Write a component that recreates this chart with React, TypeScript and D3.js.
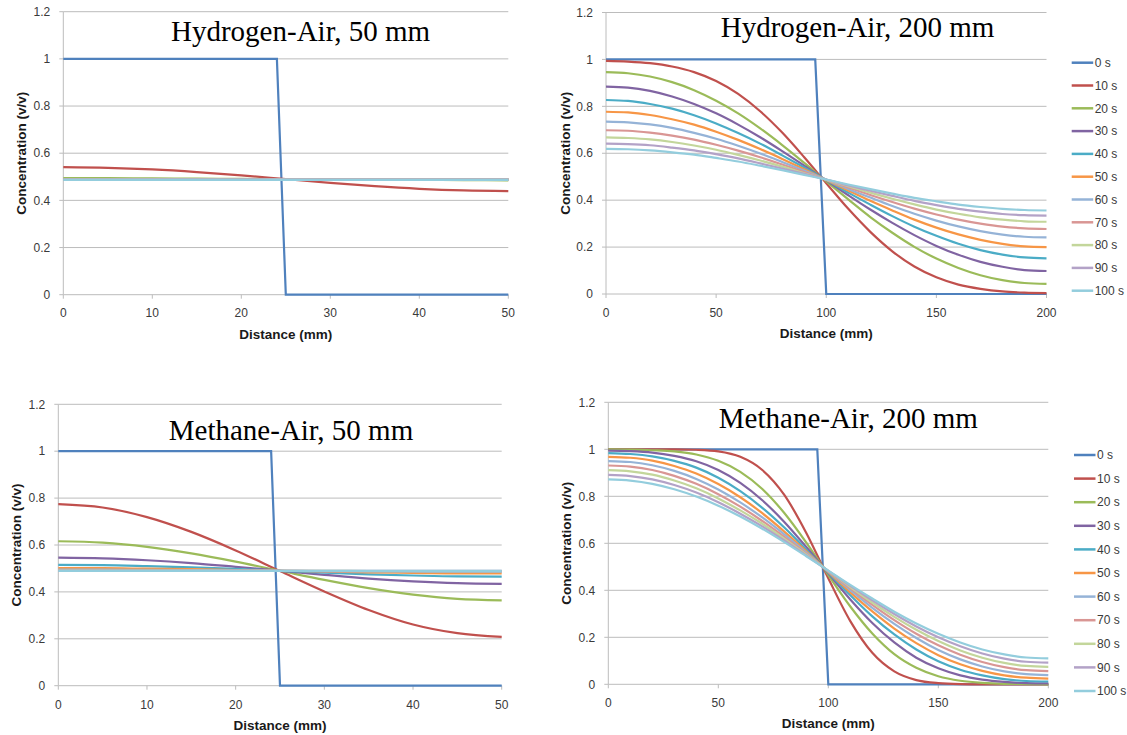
import React from "react";
import * as d3 from "d3";

// ---------- data ----------
const SERIES = ["0 s", "10 s", "20 s", "30 s", "40 s", "50 s", "60 s", "70 s", "80 s", "90 s", "100 s"];
const COLORS = ["#4F81BD", "#C0504D", "#9BBB59", "#8064A2", "#4BACC6", "#F79646", "#95B3D7", "#D99694", "#C3D69B", "#B3A2C7", "#93CDDD"];

const Y_TICKS = [0, 0.2, 0.4, 0.6, 0.8, 1, 1.2];
const X_TICKS_50 = [0, 10, 20, 30, 40, 50];
const X_TICKS_200 = [0, 50, 100, 150, 200];

// distance grids (mm)
const X50 = [0, 5, 10, 15, 20, 25, 30, 35, 40, 45, 50];
const X200 = [0, 10, 20, 30, 40, 50, 60, 70, 80, 90, 100, 110, 120, 130, 140, 150, 160, 170, 180, 190, 200];

// initial (0 s) step profile
const STEP_X_50 = [0, 24, 25, 50];
const STEP_X_200 = [0, 95, 100, 200];
const STEP_Y = [1, 1, 0, 0];

// Hydrogen-Air, 50 mm : rows = 10 s ... 100 s, values on X50
const H50 = [
  [0.541, 0.538, 0.531, 0.520, 0.506, 0.490, 0.474, 0.460, 0.449, 0.442, 0.439],
  [0.494, 0.494, 0.493, 0.492, 0.491, 0.490, 0.489, 0.488, 0.487, 0.486, 0.485],
  [0.490, 0.490, 0.490, 0.490, 0.490, 0.490, 0.490, 0.490, 0.490, 0.489, 0.489],
  [0.489, 0.489, 0.489, 0.489, 0.489, 0.489, 0.489, 0.489, 0.489, 0.489, 0.489],
  [0.489, 0.489, 0.489, 0.489, 0.489, 0.489, 0.489, 0.489, 0.489, 0.489, 0.489],
  [0.489, 0.489, 0.489, 0.489, 0.489, 0.489, 0.489, 0.489, 0.489, 0.489, 0.489],
  [0.488, 0.488, 0.488, 0.488, 0.488, 0.488, 0.488, 0.488, 0.488, 0.488, 0.488],
  [0.488, 0.488, 0.488, 0.488, 0.488, 0.488, 0.488, 0.488, 0.488, 0.488, 0.488],
  [0.488, 0.488, 0.488, 0.488, 0.488, 0.488, 0.488, 0.488, 0.488, 0.488, 0.488],
  [0.487, 0.487, 0.487, 0.487, 0.487, 0.487, 0.487, 0.487, 0.487, 0.487, 0.487],
];

// Hydrogen-Air, 200 mm : rows = 10 s ... 100 s, values on X200
const H200 = [
  [0.994, 0.991, 0.984, 0.970, 0.946, 0.908, 0.853, 0.779, 0.688, 0.583, 0.472, 0.363, 0.265, 0.182, 0.117, 0.071, 0.040, 0.022, 0.011, 0.006, 0.004],
  [0.946, 0.941, 0.927, 0.903, 0.869, 0.824, 0.770, 0.706, 0.635, 0.559, 0.480, 0.403, 0.328, 0.261, 0.201, 0.151, 0.111, 0.080, 0.059, 0.047, 0.043],
  [0.884, 0.880, 0.866, 0.842, 0.810, 0.770, 0.722, 0.668, 0.609, 0.547, 0.484, 0.421, 0.360, 0.303, 0.251, 0.205, 0.167, 0.137, 0.116, 0.102, 0.098],
  [0.827, 0.823, 0.810, 0.790, 0.762, 0.727, 0.686, 0.641, 0.591, 0.539, 0.486, 0.432, 0.381, 0.332, 0.287, 0.248, 0.214, 0.187, 0.168, 0.156, 0.152],
  [0.777, 0.774, 0.763, 0.745, 0.722, 0.692, 0.657, 0.618, 0.576, 0.532, 0.486, 0.441, 0.397, 0.356, 0.317, 0.283, 0.254, 0.231, 0.214, 0.203, 0.200],
  [0.735, 0.732, 0.723, 0.708, 0.687, 0.662, 0.632, 0.599, 0.563, 0.526, 0.487, 0.448, 0.411, 0.375, 0.342, 0.313, 0.288, 0.268, 0.253, 0.244, 0.241],
  [0.698, 0.696, 0.688, 0.675, 0.658, 0.636, 0.611, 0.583, 0.552, 0.520, 0.487, 0.454, 0.422, 0.392, 0.364, 0.339, 0.317, 0.300, 0.287, 0.280, 0.277],
  [0.668, 0.665, 0.659, 0.648, 0.633, 0.615, 0.593, 0.569, 0.543, 0.515, 0.487, 0.460, 0.432, 0.406, 0.382, 0.360, 0.342, 0.327, 0.317, 0.310, 0.308],
  [0.641, 0.639, 0.634, 0.624, 0.612, 0.596, 0.578, 0.557, 0.535, 0.512, 0.488, 0.463, 0.440, 0.418, 0.397, 0.379, 0.363, 0.351, 0.341, 0.336, 0.334],
  [0.619, 0.617, 0.612, 0.604, 0.594, 0.580, 0.565, 0.547, 0.528, 0.508, 0.488, 0.467, 0.447, 0.428, 0.410, 0.395, 0.381, 0.371, 0.363, 0.358, 0.356],
];

// Methane-Air, 50 mm : rows = 10 s ... 100 s, values on X50
const M50 = [
  [0.774, 0.760, 0.719, 0.656, 0.577, 0.489, 0.402, 0.323, 0.261, 0.224, 0.208],
  [0.616, 0.610, 0.592, 0.564, 0.529, 0.490, 0.451, 0.416, 0.388, 0.370, 0.364],
  [0.546, 0.543, 0.535, 0.523, 0.507, 0.490, 0.473, 0.457, 0.445, 0.437, 0.434],
  [0.515, 0.514, 0.510, 0.505, 0.498, 0.490, 0.482, 0.475, 0.470, 0.466, 0.465],
  [0.501, 0.501, 0.499, 0.497, 0.493, 0.490, 0.487, 0.483, 0.481, 0.479, 0.479],
  [0.495, 0.495, 0.494, 0.493, 0.492, 0.490, 0.488, 0.487, 0.486, 0.485, 0.485],
  [0.492, 0.492, 0.492, 0.491, 0.491, 0.490, 0.489, 0.489, 0.488, 0.488, 0.488],
  [0.491, 0.491, 0.491, 0.491, 0.490, 0.490, 0.490, 0.489, 0.489, 0.489, 0.489],
  [0.490, 0.490, 0.490, 0.490, 0.490, 0.490, 0.490, 0.490, 0.490, 0.490, 0.490],
  [0.490, 0.490, 0.490, 0.490, 0.490, 0.490, 0.490, 0.490, 0.490, 0.490, 0.490],
];

// Methane-Air, 200 mm : rows = 10 s ... 100 s, values on X200
const M200 = [
  [1.000, 1.000, 1.000, 1.000, 0.998, 0.991, 0.968, 0.912, 0.806, 0.644, 0.451, 0.269, 0.134, 0.055, 0.018, 0.005, 0.001, 0.000, 0.000, 0.000, 0.000],
  [1.000, 0.999, 0.996, 0.991, 0.978, 0.951, 0.904, 0.831, 0.729, 0.603, 0.465, 0.331, 0.216, 0.128, 0.070, 0.034, 0.015, 0.006, 0.002, 0.001, 0.000],
  [0.994, 0.992, 0.986, 0.972, 0.949, 0.912, 0.857, 0.783, 0.691, 0.584, 0.472, 0.361, 0.261, 0.178, 0.113, 0.068, 0.038, 0.020, 0.010, 0.005, 0.004],
  [0.984, 0.980, 0.970, 0.951, 0.922, 0.879, 0.822, 0.751, 0.667, 0.573, 0.475, 0.379, 0.289, 0.212, 0.148, 0.098, 0.062, 0.038, 0.022, 0.014, 0.012],
  [0.968, 0.964, 0.952, 0.929, 0.897, 0.852, 0.796, 0.728, 0.650, 0.566, 0.478, 0.391, 0.310, 0.237, 0.175, 0.124, 0.085, 0.057, 0.038, 0.028, 0.024],
  [0.950, 0.946, 0.932, 0.908, 0.874, 0.829, 0.774, 0.710, 0.638, 0.560, 0.480, 0.401, 0.325, 0.257, 0.197, 0.146, 0.106, 0.076, 0.055, 0.043, 0.039],
  [0.931, 0.926, 0.912, 0.887, 0.853, 0.809, 0.756, 0.695, 0.627, 0.555, 0.481, 0.408, 0.338, 0.273, 0.215, 0.166, 0.126, 0.095, 0.073, 0.060, 0.056],
  [0.911, 0.906, 0.892, 0.867, 0.834, 0.791, 0.740, 0.683, 0.619, 0.552, 0.483, 0.414, 0.348, 0.287, 0.232, 0.184, 0.144, 0.113, 0.091, 0.078, 0.074],
  [0.891, 0.886, 0.872, 0.848, 0.816, 0.775, 0.726, 0.672, 0.612, 0.548, 0.483, 0.419, 0.357, 0.299, 0.246, 0.200, 0.162, 0.131, 0.109, 0.096, 0.092],
  [0.872, 0.867, 0.853, 0.830, 0.799, 0.760, 0.714, 0.662, 0.605, 0.545, 0.484, 0.423, 0.365, 0.309, 0.259, 0.215, 0.178, 0.148, 0.127, 0.114, 0.110],
];

// ---------- drawing ----------
const SANS = "'Liberation Sans', Arial, sans-serif";
const SERIF = "'Liberation Serif', 'Times New Roman', serif";
const GRID = "#bcbcbc";
const TXT = "#3a3a3a";

type PanelProps = {
  title: string;
  titleX: number;
  titleY: number;
  x0: number;
  x1: number;
  y0: number; // pixel of value 0
  y1: number; // pixel of value 1.2
  xMax: number;
  xTicks: number[];
  xs: number[];
  stepX: number[];
  rows: number[][];
  yTitleX: number;
  xTitleY: number;
  xLabelY: number;
  legend?: { lx: number; ly: number; dy: number };
};

function Panel(p: PanelProps) {
  const x = d3.scaleLinear().domain([0, p.xMax]).range([p.x0, p.x1]);
  const y = d3.scaleLinear().domain([0, 1.2]).range([p.y0, p.y1]);
  const smooth = d3
    .line<[number, number]>()
    .x((d) => x(d[0]))
    .y((d) => y(d[1]))
    .curve(d3.curveMonotoneX);
  const straight = d3
    .line<[number, number]>()
    .x((d) => x(d[0]))
    .y((d) => y(d[1]));
  const fmt = d3.format(".1~f");
  const stepPts: [number, number][] = p.stepX.map((v, i) => [v, STEP_Y[i]]);
  const yMid = (p.y0 + p.y1) / 2;
  const xMid = (p.x0 + p.x1) / 2;
  return (
    <g>
      {/* gridlines */}
      {Y_TICKS.filter((t) => t > 0).map((t) => (
        <line key={"g" + t} x1={p.x0} x2={p.x1} y1={y(t)} y2={y(t)} stroke={GRID} strokeWidth={1} />
      ))}
      {/* axes */}
      <line x1={p.x0} x2={p.x0} y1={p.y0} y2={p.y1} stroke={GRID} strokeWidth={1} />
      <line x1={p.x0} x2={p.x1} y1={p.y0} y2={p.y0} stroke={GRID} strokeWidth={1} />
      {Y_TICKS.map((t) => (
        <g key={"y" + t}>
          <line x1={p.x0 - 4} x2={p.x0} y1={y(t)} y2={y(t)} stroke={GRID} />
          <text x={p.x0 - 13} y={y(t)} dy="0.35em" textAnchor="end" fontFamily={SANS} fontSize={12} fill={TXT}>
            {fmt(t)}
          </text>
        </g>
      ))}
      {p.xTicks.map((t) => (
        <g key={"x" + t}>
          <line x1={x(t)} x2={x(t)} y1={p.y0} y2={p.y0 + 4} stroke={GRID} />
          <text x={x(t)} y={p.xLabelY} dy="0.35em" textAnchor="middle" fontFamily={SANS} fontSize={12} fill={TXT}>
            {t}
          </text>
        </g>
      ))}
      {/* axis titles */}
      <text x={xMid} y={p.xTitleY} dy="0.35em" textAnchor="middle" fontFamily={SANS} fontWeight="bold" fontSize={13.5} fill="#1a1a1a">
        Distance (mm)
      </text>
      <text
        transform={`translate(${p.yTitleX},${yMid}) rotate(-90)`}
        dy="0.35em"
        textAnchor="middle"
        fontFamily={SANS}
        fontWeight="bold"
        fontSize={13.5}
        fill="#1a1a1a"
      >
        Concentration (v/v)
      </text>
      {/* series */}
      <path d={straight(stepPts) || ""} fill="none" stroke={COLORS[0]} strokeWidth={2.2} />
      {p.rows.map((r, i) => (
        <path
          key={"s" + i}
          d={smooth(r.map((v, j) => [p.xs[j], v] as [number, number])) || ""}
          fill="none"
          stroke={COLORS[i + 1]}
          strokeWidth={2.2}
        />
      ))}
      {/* title */}
      <text x={p.titleX} y={p.titleY} textAnchor="middle" fontFamily={SERIF} fontSize={29} fill="#000">
        {p.title}
      </text>
      {/* legend */}
      {p.legend &&
        SERIES.map((s, i) => {
          const ly = p.legend!.ly + i * p.legend!.dy;
          return (
            <g key={"l" + i}>
              <line x1={p.legend!.lx} x2={p.legend!.lx + 21.5} y1={ly} y2={ly} stroke={COLORS[i]} strokeWidth={2.5} />
              <text x={p.legend!.lx + 23} y={ly} dy="0.35em" fontFamily={SANS} fontSize={12} fill={TXT}>
                {s}
              </text>
            </g>
          );
        })}
    </g>
  );
}

export default function App() {
  return (
    <svg
      width={1127}
      height={735}
      viewBox="0 0 1127 735"
      style={{ position: "absolute", left: 0, top: 0, background: "#fff" }}
    >
      <rect x={0} y={0} width={1127} height={735} fill="#fff" />
      <Panel
        title="Hydrogen-Air, 50 mm"
        titleX={300.5}
        titleY={40.5}
        x0={63.3}
        x1={508.3}
        y0={294.7}
        y1={11.7}
        xMax={50}
        xTicks={X_TICKS_50}
        xs={X50}
        stepX={STEP_X_50}
        rows={H50}
        yTitleX={21.5}
        xTitleY={334}
        xLabelY={313}
      />
      <Panel
        title="Hydrogen-Air, 200 mm"
        titleX={857.5}
        titleY={37.3}
        x0={606}
        x1={1046.5}
        y0={294}
        y1={12.5}
        xMax={200}
        xTicks={X_TICKS_200}
        xs={X200}
        stepX={STEP_X_200}
        rows={H200}
        yTitleX={565}
        xTitleY={333.3}
        xLabelY={312.7}
        legend={{ lx: 1071.7, ly: 62.7, dy: 22.8 }}
      />
      <Panel
        title="Methane-Air, 50 mm"
        titleX={291}
        titleY={440}
        x0={58.3}
        x1={501.7}
        y0={685.7}
        y1={404.3}
        xMax={50}
        xTicks={X_TICKS_50}
        xs={X50}
        stepX={STEP_X_50}
        rows={M50}
        yTitleX={16.7}
        xTitleY={725}
        xLabelY={704.3}
      />
      <Panel
        title="Methane-Air, 200 mm"
        titleX={848.3}
        titleY={428.3}
        x0={608.3}
        x1={1048.3}
        y0={684.3}
        y1={402.3}
        xMax={200}
        xTicks={X_TICKS_200}
        xs={X200}
        stepX={STEP_X_200}
        rows={M200}
        yTitleX={566}
        xTitleY={723.3}
        xLabelY={702.7}
        legend={{ lx: 1074, ly: 455, dy: 23.6 }}
      />
    </svg>
  );
}
